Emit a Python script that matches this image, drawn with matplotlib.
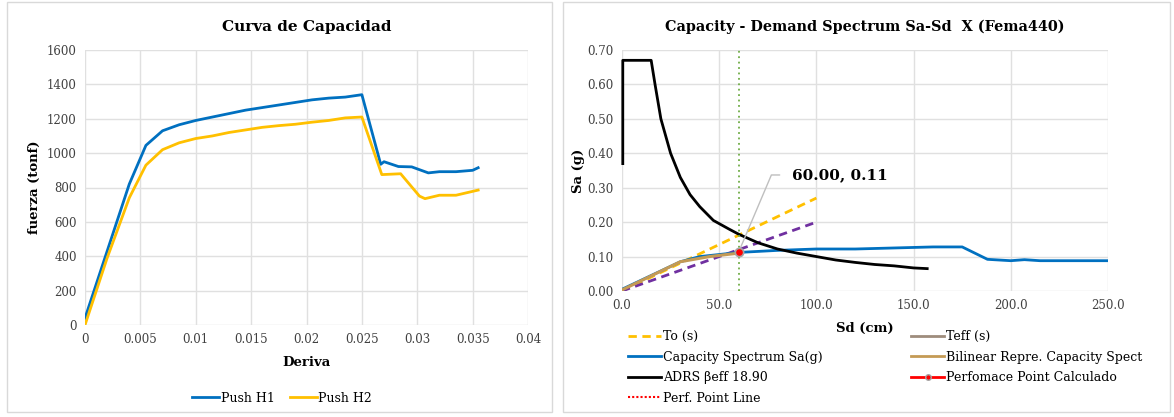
import matplotlib.pyplot as plt
from matplotlib.patches import Rectangle
from matplotlib.lines import Line2D

# --- Curva de capacidad (deriva vs fuerza) ---
deriva_h1 = [0, 0.002, 0.004, 0.0055, 0.007, 0.0085, 0.01, 0.0115, 0.013, 0.0145,
             0.016, 0.0175, 0.019, 0.0205, 0.022, 0.0235, 0.025, 0.0267, 0.027,
             0.0283, 0.0295, 0.031, 0.032, 0.0335, 0.035, 0.0355]
fuerza_h1 = [40, 430, 820, 1045, 1130, 1165, 1190, 1210, 1230, 1250,
             1265, 1280, 1295, 1310, 1320, 1326, 1340, 935, 950,
             922, 920, 885, 892, 892, 900, 915]

deriva_h2 = [0, 0.002, 0.004, 0.0055, 0.007, 0.0085, 0.01, 0.0115, 0.013, 0.0145,
             0.016, 0.0175, 0.019, 0.0205, 0.022, 0.0235, 0.025, 0.0268, 0.0285,
             0.0302, 0.0307, 0.032, 0.0335, 0.0355]
fuerza_h2 = [0, 390, 740, 930, 1020, 1060, 1085, 1100, 1120, 1135,
             1150, 1160, 1168, 1180, 1190, 1205, 1210, 875, 880,
             750, 735, 755, 755, 785]

# --- Espectro capacidad-demanda ---
sd_adrs = [0.4, 0.4, 15, 17, 20, 25, 30, 35, 40, 47, 55, 60, 70, 80, 90, 100,
           110, 120, 130, 140, 150, 157]
sa_adrs = [0.37, 0.67, 0.67, 0.60, 0.50, 0.40, 0.33, 0.28, 0.245, 0.205, 0.18,
           0.165, 0.14, 0.122, 0.11, 0.10, 0.09, 0.083, 0.077, 0.073, 0.067, 0.065]

sd_cap = [0, 30, 40, 60, 80, 100, 120, 140, 160, 175, 188, 200, 207, 215, 250]
sa_cap = [0.005, 0.085, 0.1, 0.112, 0.118, 0.122, 0.122, 0.125, 0.128, 0.128,
          0.092, 0.088, 0.091, 0.088, 0.088]

sd_bil = [0, 30, 45, 60]
sa_bil = [0.003, 0.085, 0.1, 0.11]

sd_to = [0, 100]
sa_to = [0, 0.27]
sd_teff = [0, 100]
sa_teff = [0, 0.2]

pp_sd, pp_sa = 60.0, 0.113

plt.rcParams['font.family'] = 'DejaVu Serif'
fig = plt.figure(figsize=(11.74, 4.17), dpi=100)

# marcos de cada grafico
for x0, x1 in [(7, 552), (563, 1170)]:
    fig.patches.append(Rectangle((x0 / 1174, 5 / 417), (x1 - x0) / 1174, 410 / 417,
                                 transform=fig.transFigure, fill=False,
                                 edgecolor='#d9d9d9', linewidth=1))

grid_c = '#e0e0e0'
tick_c = '#404040'

# --- izquierda ---
ax1 = fig.add_axes([85 / 1174, 1 - 325 / 417, 443 / 1174, 275 / 417])
ax1.plot(deriva_h1, fuerza_h1, color='#0070C0', linewidth=2, label='Push H1')
ax1.plot(deriva_h2, fuerza_h2, color='#FFC000', linewidth=2, label='Push H2')
ax1.set_xlim(0, 0.04)
ax1.set_ylim(0, 1600)
ax1.set_xticks([0, 0.005, 0.01, 0.015, 0.02, 0.025, 0.03, 0.035, 0.04])
ax1.set_xticklabels(['0', '0.005', '0.01', '0.015', '0.02', '0.025', '0.03', '0.035', '0.04'])
ax1.set_yticks(range(0, 1601, 200))
ax1.grid(True, color=grid_c, linewidth=1)
ax1.set_axisbelow(True)
for s in ax1.spines.values():
    s.set_visible(False)
ax1.tick_params(length=0, labelsize=8.5, labelcolor=tick_c, pad=6)
ax1.set_title('Curva de Capacidad', fontsize=11, fontweight='bold', pad=14)
ax1.set_xlabel('Deriva', fontsize=9.5, fontweight='bold', labelpad=7)
ax1.set_ylabel('fuerza (tonf)', fontsize=9.5, fontweight='bold')
fig.legend(*ax1.get_legend_handles_labels(), loc='center',
           bbox_to_anchor=(282 / 1174, 1 - 398 / 417), ncol=2, frameon=False,
           fontsize=9, handlelength=2.2, handletextpad=0.1, columnspacing=1.2,
           borderpad=0, borderaxespad=0)

# --- derecha ---
ax2 = fig.add_axes([622 / 1174, 1 - 291 / 417, 486 / 1174, 241 / 417])
ax2.plot(sd_to, sa_to, color='#FFC000', linewidth=2, linestyle=(0, (3, 2)))
ax2.plot(sd_teff, sa_teff, color='#7030A0', linewidth=2, linestyle=(0, (3, 2)))
ax2.plot(sd_cap, sa_cap, color='#0070C0', linewidth=2)
ax2.plot(sd_bil, sa_bil, color='#C49A55', linewidth=2.2)
ax2.plot(sd_adrs, sa_adrs, color='black', linewidth=2, clip_on=False)
ax2.axvline(pp_sd, color='#70AD47', linewidth=1.3, linestyle=(0, (1, 2)))
ax2.plot([pp_sd], [pp_sa], marker='o', markersize=6, color='red',
         markeredgecolor='#a6a6a6', markeredgewidth=1.2, zorder=5)
ax2.annotate(f'{pp_sd:.2f}, {pp_sa:.2f}', xy=(pp_sd, pp_sa), xytext=(87.4, 0.337),
             fontsize=11, fontweight='bold', va='center', ha='left',
             bbox=dict(boxstyle='square,pad=0.8', fc='none', ec='none'),
             arrowprops=dict(arrowstyle='-', color='#bfbfbf', linewidth=1,
                             shrinkA=0, shrinkB=0,
                             connectionstyle='angle,angleA=0,angleB=67,rad=0',
                             relpos=(0, 0.5)))
ax2.set_xlim(0, 250)
ax2.set_ylim(0, 0.7)
ax2.set_xticks(range(0, 251, 50))
ax2.set_xticklabels([f'{v:.1f}' for v in range(0, 251, 50)])
ax2.set_yticks([i / 10 for i in range(8)])
ax2.set_yticklabels([f'{i / 10:.2f}' for i in range(8)])
ax2.grid(True, color=grid_c, linewidth=1)
ax2.set_axisbelow(True)
for s in ax2.spines.values():
    s.set_visible(False)
ax2.tick_params(length=0, labelsize=8.5, labelcolor=tick_c, pad=6)
ax2.set_title('Capacity - Demand Spectrum Sa-Sd  X (Fema440)', fontsize=10.4,
              fontweight='bold', pad=14)
ax2.set_xlabel('Sd (cm)', fontsize=9.5, fontweight='bold', labelpad=7)
ax2.set_ylabel('Sa (g)', fontsize=9.5, fontweight='bold', labelpad=2)

handles = [
    Line2D([], [], color='#FFC000', linewidth=2, linestyle=(0, (3, 2))),
    Line2D([], [], color='#0070C0', linewidth=2),
    Line2D([], [], color='black', linewidth=2),
    Line2D([], [], color='red', linewidth=1.5, linestyle=(0, (1, 1))),
    Line2D([], [], color='#9E8C7C', linewidth=2),
    Line2D([], [], color='#C49A55', linewidth=2),
    Line2D([], [], color='red', linewidth=2, marker='o', markersize=4,
           markeredgecolor='#a6a6a6'),
]
labels = ['To (s)', 'Capacity Spectrum Sa(g)', 'ADRS \u03b2eff 18.90', 'Perf. Point Line',
          'Teff (s)', 'Bilinear Repre. Capacity Spect', 'Perfomace Point Calculado']
fig.legend(handles, labels, loc='upper left', bbox_to_anchor=(628 / 1174, 1 - 330 / 417),
           ncol=2, frameon=False, fontsize=9, handlelength=2.6, handletextpad=0.2,
           columnspacing=7.1, labelspacing=0.6, borderpad=0, borderaxespad=0)

fig.savefig('out.png', dpi=100)
